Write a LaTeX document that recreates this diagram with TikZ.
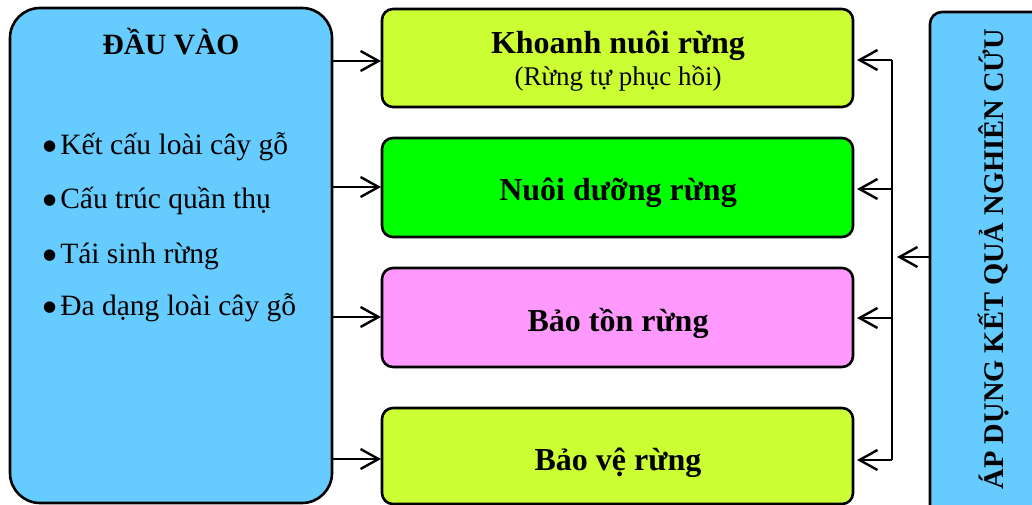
\documentclass[tikz,border=0pt]{standalone}
\usepackage{fontspec}
\setmainfont{Liberation Serif}
\newfontfamily\symfont{DejaVu Sans}
\usetikzlibrary{arrows.meta}
\definecolor{cblue}{HTML}{66CCFF}
\definecolor{clime}{HTML}{CCFF33}
\definecolor{cgreen}{HTML}{00FF00}
\definecolor{cpink}{HTML}{FF99FF}
\newcommand{\bul}{\raisebox{4pt}{\symfont\fontsize{15}{15}\selectfont ●}\hspace{4pt}}
\tikzset{
  box/.style={draw=black, line width=2.6pt, rounded corners=11pt},
  bigbox/.style={draw=black, line width=2.6pt, rounded corners=30pt},
  conn/.style={line width=2.4pt, -{Straight Barb[length=18pt,width=20pt,line width=2.4pt]}},
  seg/.style={line width=2.4pt},
  boxtext/.style={font=\fontsize{32}{36}\selectfont\bfseries, anchor=base},
  subtext/.style={font=\fontsize{27}{30}\selectfont, anchor=base},
  itemtext/.style={font=\fontsize{29.5}{33}\selectfont, anchor=base west, inner sep=0pt},
}
\begin{document}
\begin{tikzpicture}[x=1pt,y=-1pt]
\useasboundingbox (0,0) rectangle (1032,505);
\clip (0,0) rectangle (1032,505);
% left box
\path[bigbox, fill=cblue] (10,8) rectangle (332,503);
\node[boxtext, font=\fontsize{29.5}{33}\selectfont\bfseries] (intitle) at (171,55) {ĐẦU VÀO};
\node[itemtext] (i1) at (43,155) {\bul Kết cấu loài cây gỗ};
\node[itemtext] (i2) at (43,208) {\bul Cấu trúc quần thụ};
\node[itemtext] (i3) at (43,263) {\bul Tái sinh rừng};
\node[itemtext] (i4) at (43,315) {\bul Đa dạng loài cây gỗ};
% middle boxes
\path[box, fill=clime] (382,9) rectangle (853,107);
\path[box, fill=cgreen] (382,138) rectangle (853,237);
\path[box, fill=cpink] (382,268) rectangle (853,367);
\path[box, fill=clime] (382,408) rectangle (853,504);
\node[boxtext] (b1) at (618,54) {Khoanh nuôi rừng};
\node[subtext] (b1s) at (618,86) {(Rừng tự phục hồi)};
\node[boxtext] (b2) at (618,200) {Nuôi dưỡng rừng};
\node[boxtext] (b3) at (618,331) {Bảo tồn rừng};
\node[boxtext] (b4) at (618,470) {Bảo vệ rừng};
% right box
\path[box, fill=cblue, rounded corners=12pt] (930,12) rectangle (1050,520);
\node[font=\fontsize{28.5}{33}\selectfont\bfseries, rotate=90] (ap) at (994,259) {ÁP DỤNG KẾT QUẢ NGHIÊN CỨU};
% coordinates
\coordinate (l1) at (332,61); \coordinate (m1l) at (381,61);
\coordinate (l2) at (332,187); \coordinate (m2l) at (381,187);
\coordinate (l3) at (332,317); \coordinate (m3l) at (381,317);
\coordinate (l4) at (332,459); \coordinate (m4l) at (381,459);
\coordinate (v1) at (892,60); \coordinate (m1r) at (857,60);
\coordinate (v2) at (892,189); \coordinate (m2r) at (857,189);
\coordinate (v3) at (892,318); \coordinate (m3r) at (857,318);
\coordinate (v4) at (892,460); \coordinate (m4r) at (857,460);
\coordinate (rb) at (930,257); \coordinate (vm) at (897,257);
% left arrows
\draw[conn] (l1) -- (m1l);
\draw[conn] (l2) -- (m2l);
\draw[conn] (l3) -- (m3l);
\draw[conn] (l4) -- (m4l);
% right bus
\draw[seg] (v1) -- (v4);
\draw[conn] (v1) -- (m1r);
\draw[conn] (v2) -- (m2r);
\draw[conn] (v3) -- (m3r);
\draw[conn] (v4) -- (m4r);
\draw[conn] (rb) -- (vm);
\end{tikzpicture}
\end{document}
